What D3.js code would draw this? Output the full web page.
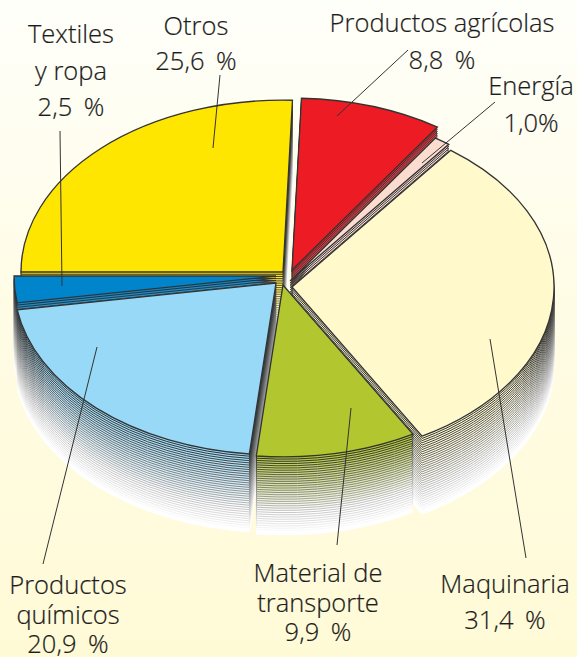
<!DOCTYPE html>
<html>
<head>
<meta charset="utf-8">
<script src="https://cdnjs.cloudflare.com/ajax/libs/d3/7.8.5/d3.min.js"></script>
<style>
  html, body { margin: 0; padding: 0; }
  svg { display: block; }
  text { font-family: "Open Sans", sans-serif; font-weight: 300; font-size: 25.5px; fill: #1c1c1c; stroke: #1c1c1c; stroke-width: 0.2px; text-anchor: middle; }
</style>
</head>
<body>
<div id="chart-area"></div>
<script>
const WIDTH = 577;
const HEIGHT = 657;

const categories = ['Otros', 'Productos agrícolas', 'Energía', 'Maquinaria', 'Material de transporte', 'Productos químicos', 'Textiles y ropa'];
const values = [25.6, 8.8, 1.0, 31.4, 9.9, 20.9, 2.5];
const colors = ['#ffe600', '#ed1c24', '#fddcd0', '#fff9cc', '#b2c72f', '#97d9f7', '#0085cc'];

// where each wedge tip sits once the pie is pulled apart
const tips = [[283, 272], [292, 270], [290, 281], [292, 287], [283, 285], [276, 283], [276, 276]];
// back to front
const paintOrder = [0, 1, 2, 3, 6, 5, 4];

const RADIUS = 262;
const TILT = 0.656;
const DEPTH = 78;
const LAYERS = 35;
const START_DEG = -90;

const labels = [
  { lines: ['Otros', '25,6 %'], x: 196, y: [35, 70] },
  { lines: ['Productos agrícolas', '8,8 %'], x: 442, y: [32, 69] },
  { lines: ['Energía', '1,0%'], x: 531, y: [95, 132] },
  { lines: ['Maquinaria', '31,4 %'], x: 505, y: [593, 629] },
  { lines: ['Material de', 'transporte', '9,9 %'], x: 318, y: [582, 612, 641] },
  { lines: ['Productos', 'químicos', '20,9 %'], x: 68, y: [594, 624, 653] },
  { lines: ['Textiles', 'y ropa', '2,5 %'], x: 71, y: [43, 80, 116] }
];

const leaders = [
  [[220, 75], [213, 148]],
  [[408, 50], [337, 116]],
  [[495, 102], [422, 163]],
  [[490, 339], [526, 558]],
  [[351, 408], [337, 545]],
  [[97, 347], [43, 564]],
  [[60, 131], [62, 286]]
];

const svg = d3.select('#chart-area').append('svg')
  .attr('width', WIDTH)
  .attr('height', HEIGHT);

const grad = svg.append('defs').append('linearGradient')
  .attr('id', 'paper')
  .attr('x1', 0).attr('y1', 0).attr('x2', 0).attr('y2', 1);
grad.append('stop').attr('offset', '0%').attr('stop-color', '#fffffa');
grad.append('stop').attr('offset', '45%').attr('stop-color', '#fffce6');
grad.append('stop').attr('offset', '100%').attr('stop-color', '#fffad6');

svg.append('rect')
  .attr('width', WIDTH)
  .attr('height', HEIGHT)
  .attr('fill', 'url(#paper)');

const pie = d3.pie()
  .sort(null)
  .startAngle(START_DEG * Math.PI / 180)
  .endAngle((360 + START_DEG) * Math.PI / 180);

const arc = d3.arc().innerRadius(0).outerRadius(RADIUS);
const slices = pie(values);

const depthScale = d3.scaleLinear().domain([0, LAYERS]).range([0, DEPTH]);
const strokeFade = d3.scaleLinear().domain([0, 0.97]).range(['#2a2a2a', '#ffffff']).clamp(true);

paintOrder.forEach(i => {
  const g = svg.append('g').attr('class', 'slice').attr('data-name', categories[i]);
  const tip = tips[i];
  const fillFade = d3.interpolateRgb(colors[i], '#ffffff');

  // the stack of outlines that makes the wall, lowest one first
  d3.range(LAYERS, 0, -1).forEach(k => {
    const t = k / LAYERS;
    g.append('path')
      .attr('d', arc(slices[i]))
      .attr('transform', `translate(${tip[0]}, ${tip[1] + depthScale(k)}) scale(1, ${TILT})`)
      .attr('fill', fillFade(Math.min(1, t * 1.4)))
      .attr('stroke', strokeFade(t))
      .attr('stroke-width', 1)
      .attr('vector-effect', 'non-scaling-stroke');
  });

  g.append('path')
    .attr('d', arc(slices[i]))
    .attr('transform', `translate(${tip[0]}, ${tip[1]}) scale(1, ${TILT})`)
    .attr('fill', colors[i])
    .attr('stroke', '#333333')
    .attr('stroke-width', 1.3)
    .attr('vector-effect', 'non-scaling-stroke');
});

svg.selectAll('line.leader')
  .data(leaders)
  .enter().append('line')
  .attr('class', 'leader')
  .attr('x1', d => d[0][0])
  .attr('y1', d => d[0][1])
  .attr('x2', d => d[1][0])
  .attr('y2', d => d[1][1])
  .attr('stroke', '#333333')
  .attr('stroke-width', 1);

labels.forEach(l => {
  l.lines.forEach((line, j) => {
    svg.append('text')
      .attr('x', l.x)
      .attr('y', l.y[j])
      .style('word-spacing', line.endsWith(' %') ? '5px' : null)
      .text(line);
  });
});
</script>
</body>
</html>
